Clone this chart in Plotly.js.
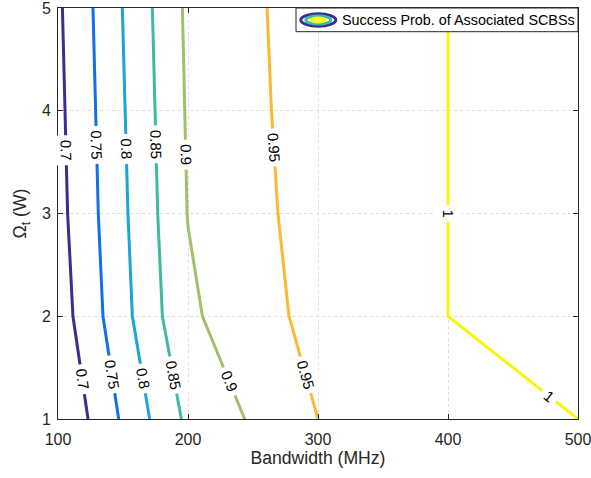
<!DOCTYPE html>
<html>
<head>
<meta charset="utf-8">
<script src="https://cdn.plot.ly/plotly-3.0.1.min.js"></script>
<style>html,body{margin:0;padding:0;background:#fff;}#chart{width:591px;height:478px;}</style>
</head>
<body>
<div id="chart"></div>
<script>
// Contour levels (success probability)
const levels = [0.7, 0.75, 0.8, 0.85, 0.9, 0.95, 1];
const levelText = ["0.7", "0.75", "0.8", "0.85", "0.9", "0.95", "1"];
const levelColors = ["#3a2e8f", "#1170e6", "#1ba4d6", "#3dbba0", "#a3c068", "#fdb832", "#f7f70e"];

// Contour line vertices (Bandwidth MHz, Omega_t W)
const c070_x = [123.1, 111.5, 107.4, 105.4, 103.4];
const c070_y = [1, 2, 3, 4, 5];
const c075_x = [146.7, 134.6, 131.0, 128.8, 126.9];
const c075_y = [1, 2, 3, 4, 5];
const c080_x = [170.5, 157.2, 153.8, 151.8, 149.5];
const c080_y = [1, 2, 3, 4, 5];
const c085_x = [194.9, 180.3, 176.7, 174.6, 172.6];
const c085_y = [1, 2, 3, 4, 5];
const c090_x = [243.6, 211.1, 200.0, 199.3, 197.5, 195.7];
const c090_y = [1, 2, 2.87, 3, 4, 5];
const c095_x = [300.0, 277.7, 269.2, 264.2, 260.8];
const c095_y = [1, 2, 3, 4, 5];
const c100_x = [500, 400, 400];
const c100_y = [1, 2, 5];

// Inline label positions (Omega_t values along each contour)
const labelY = [[3.62, 1.39], [3.67, 1.43], [3.63, 1.39], [3.67, 1.43], [3.57, 1.37], [3.64, 1.43], [3.0, 1.22]];

const xTicks = [100, 200, 300, 400, 500];
const yTicks = [1, 2, 3, 4, 5];

const contoursX = [c070_x, c075_x, c080_x, c085_x, c090_x, c095_x, c100_x];
const contoursY = [c070_y, c075_y, c080_y, c085_y, c090_y, c095_y, c100_y];

const W = 591, H = 478;
const M = {l: 58, r: 13, t: 8, b: 59};
const xRange = [100, 500], yRange = [1, 5];
const kx = (W - M.l - M.r) / (xRange[1] - xRange[0]);
const ky = (H - M.t - M.b) / (yRange[1] - yRange[0]);

const FONT = "Liberation Sans, Arial, Helvetica, sans-serif";
const INK = "#262626";

const traces = contoursX.map((xs, i) => ({
  type: "scatter", mode: "lines",
  x: xs, y: contoursY[i],
  line: {color: levelColors[i], width: 3},
  hoverinfo: "skip", showlegend: false
}));

// Labels placed on the contour lines, rotated along them
const annotations = [];
contoursX.forEach((xs, i) => {
  const ys = contoursY[i];
  labelY[i].forEach(yl => {
    for (let j = 0; j < ys.length - 1; j++) {
      const y0 = ys[j], y1 = ys[j + 1];
      if (yl >= Math.min(y0, y1) && yl <= Math.max(y0, y1)) {
        const t = (yl - y0) / (y1 - y0);
        const xl = xs[j] + t * (xs[j + 1] - xs[j]);
        let xa = xs[j], ya = y0, xb = xs[j + 1], yb = y1;
        if (ya < yb) { [xa, xb] = [xb, xa]; [ya, yb] = [yb, ya]; }
        const dxs = (xb - xa) * kx, dys = (ya - yb) * ky;
        const ang = Math.atan2(dys, dxs) * 180 / Math.PI;
        annotations.push({
          x: xl, y: yl, xref: "x", yref: "y",
          text: levelText[i], showarrow: false,
          textangle: ang, xanchor: "center", yanchor: "middle",
          font: {family: FONT, size: 15, color: "#000"},
          bgcolor: "#ffffff", borderpad: 4
        });
        break;
      }
    }
  });
});

// Legend text
annotations.push({
  xref: "paper", yref: "paper", x: 0.5417, y: 0.9715,
  xanchor: "left", yanchor: "middle", showarrow: false,
  text: "Success Prob. of Associated SCBSs",
  font: {family: FONT, size: 14.4, color: "#000"}
});

const pxX = p => (p - M.l) / (W - M.l - M.r);
const pxY = p => 1 - (p - M.t) / (H - M.t - M.b);
const cx = 318.3, cy = 20;
function ell(hw, hh, color) {
  return {type: "circle", xref: "paper", yref: "paper", layer: "above",
    x0: pxX(cx - hw), x1: pxX(cx + hw), y0: pxY(cy + hh), y1: pxY(cy - hh),
    line: {color: color, width: 3}, fillcolor: "rgba(0,0,0,0)"};
}
const shapes = [
  {type: "rect", xref: "paper", yref: "paper", layer: "above",
   x0: pxX(296), x1: 1, y0: pxY(31.7), y1: 1,
   fillcolor: "#ffffff", line: {color: INK, width: 1}},
  ell(17.5, 6.2, levelColors[0]),
  ell(12.5, 4.0, levelColors[3]),
  ell(6.5, 2.0, levelColors[6])
];

const axisCommon = {
  showline: true, linecolor: INK, linewidth: 1, mirror: "allticks",
  ticks: "inside", ticklen: 5, tickcolor: INK, tickwidth: 1,
  showgrid: true, gridcolor: "#dddddd", griddash: "dot", gridwidth: 1,
  zeroline: false, ticklabeloverflow: "allow",
  tickfont: {family: FONT, size: 16, color: INK}
};

const layout = {
  width: W, height: H, margin: M,
  paper_bgcolor: "#ffffff", plot_bgcolor: "#ffffff",
  showlegend: false,
  xaxis: Object.assign({}, axisCommon, {
    range: xRange, tickvals: xTicks, ticktext: xTicks.map(String),
    automargin: false, ticklabelstandoff: 6,
    title: {text: "Bandwidth (MHz)", font: {family: FONT, size: 17.6, color: INK}, standoff: 4}
  }),
  yaxis: Object.assign({}, axisCommon, {
    range: yRange, tickvals: yTicks, ticktext: yTicks.map(String),
    automargin: false, ticklabelstandoff: 3,
    title: {text: "Ω<sub>t</sub> (W)", font: {family: FONT, size: 17.6, color: INK}, standoff: 10}
  }),
  annotations: annotations,
  shapes: shapes
};

Plotly.newPlot("chart", traces, layout, {staticPlot: true, displayModeBar: false});
</script>
</body>
</html>
